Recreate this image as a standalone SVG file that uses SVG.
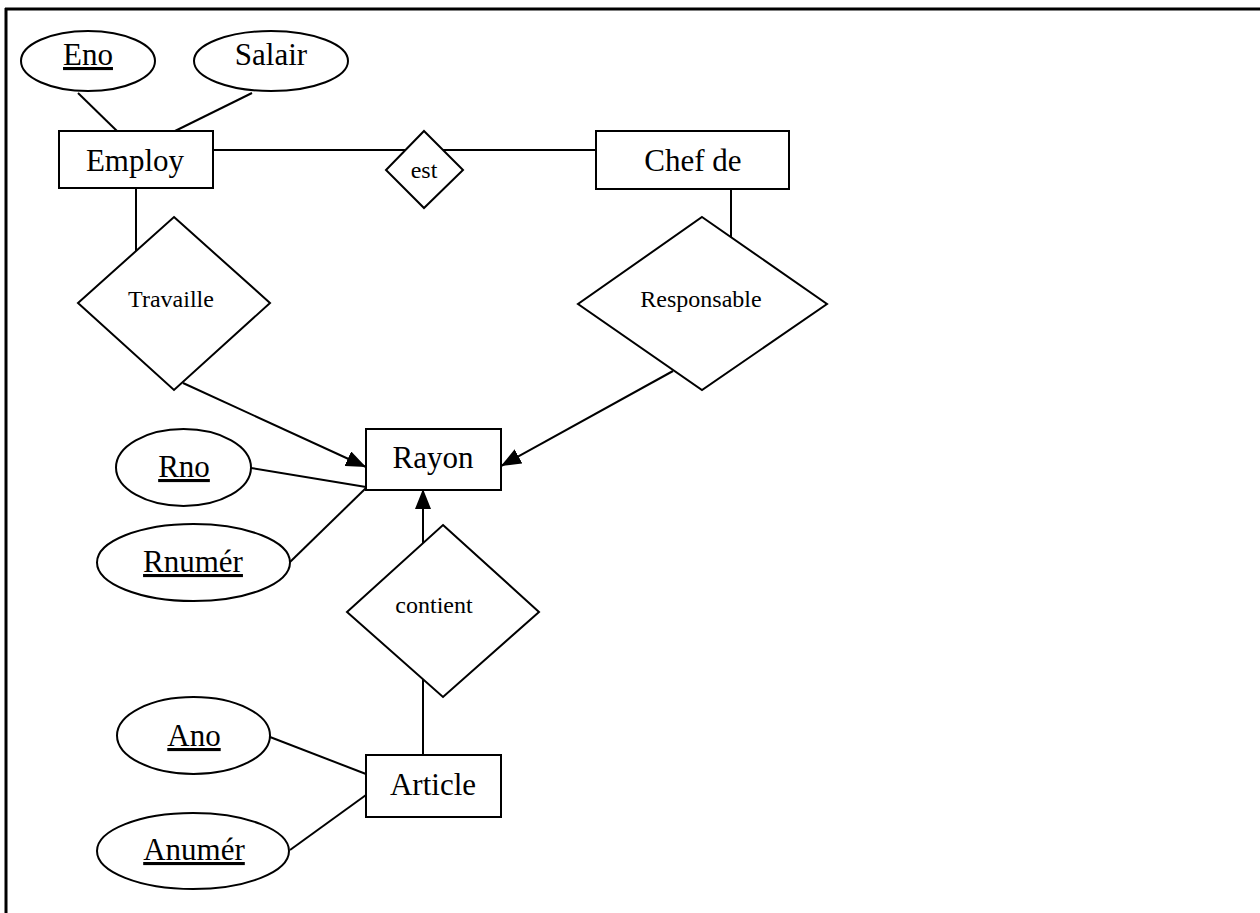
<svg xmlns="http://www.w3.org/2000/svg" width="1260" height="913" viewBox="0 0 1260 913">
  <style>
    .shape { fill: #ffffff; stroke: #000000; stroke-width: 2; }
    .link { fill: none; stroke: #000000; stroke-width: 2; }
    .big { font-family: "Liberation Serif", "Times New Roman", serif; font-size: 31px; fill: #000000; text-anchor: middle; }
    .small { font-family: "Liberation Serif", "Times New Roman", serif; font-size: 24px; fill: #000000; text-anchor: middle; }
    .key { text-decoration: underline; }
  </style>
  <defs>
    <marker id="arrow" viewBox="0 0 20 16" refX="20" refY="8" markerWidth="20" markerHeight="16" markerUnits="userSpaceOnUse" orient="auto">
      <path d="M0,0 L20,8 L0,16 Z" fill="#000000"/>
    </marker>
  </defs>

  <rect width="1260" height="913" fill="#ffffff"/>

  <!-- page frame: top and left edges -->
  <g id="frame">
    <line x1="5" y1="9" x2="1260" y2="9" stroke="#000000" stroke-width="3"/>
    <line x1="6" y1="8" x2="6" y2="913" stroke="#000000" stroke-width="3"/>
  </g>

  <g id="connectors">
    <line class="link" x1="78" y1="93" x2="117" y2="131"/>
    <line class="link" x1="252" y1="93" x2="175" y2="131"/>
    <line class="link" x1="213" y1="150" x2="596" y2="150"/>
    <line class="link" x1="136" y1="188" x2="136" y2="256"/>
    <line class="link" x1="731" y1="189" x2="731" y2="240"/>
    <line class="link" x1="183" y1="383" x2="366" y2="467" marker-end="url(#arrow)"/>
    <line class="link" x1="673" y1="371" x2="501" y2="466" marker-end="url(#arrow)"/>
    <line class="link" x1="423" y1="545" x2="423" y2="489" marker-end="url(#arrow)"/>
    <line class="link" x1="423" y1="676" x2="423" y2="755"/>
    <line class="link" x1="251" y1="468" x2="366" y2="487"/>
    <line class="link" x1="290" y1="562" x2="366" y2="488"/>
    <line class="link" x1="270" y1="737" x2="366" y2="774"/>
    <line class="link" x1="290" y1="850" x2="366" y2="795"/>
  </g>

  <g id="eno">
    <ellipse class="shape" cx="88" cy="61" rx="67" ry="30"/>
    <text class="big key" x="88" y="65">Eno</text>
  </g>
  <g id="salair">
    <ellipse class="shape" cx="271" cy="61" rx="77" ry="30"/>
    <text class="big" x="271" y="65">Salair</text>
  </g>
  <g id="employ">
    <rect class="shape" x="59" y="131" width="154" height="57"/>
    <text class="big" x="135" y="171">Employ</text>
  </g>
  <g id="est">
    <polygon class="shape" points="424,131 463,170 424,208 386,170"/>
    <text class="small" x="424" y="178">est</text>
  </g>
  <g id="chef-de">
    <rect class="shape" x="596" y="131" width="193" height="58"/>
    <text class="big" x="693" y="171">Chef de</text>
  </g>
  <g id="travaille">
    <polygon class="shape" points="174,217 270,303 174,390 78,303"/>
    <text class="small" x="171" y="307">Travaille</text>
  </g>
  <g id="responsable">
    <polygon class="shape" points="702,217 827,304 702,390 578,304"/>
    <text class="small" x="701" y="307">Responsable</text>
  </g>
  <g id="rayon">
    <rect class="shape" x="366" y="429" width="135" height="61"/>
    <text class="big" x="433" y="468">Rayon</text>
  </g>
  <g id="rno">
    <ellipse class="shape" cx="183.5" cy="467.5" rx="67.5" ry="38.5"/>
    <text class="big key" x="184" y="477">Rno</text>
  </g>
  <g id="rnumer">
    <ellipse class="shape" cx="193.5" cy="562.5" rx="96.5" ry="38.5"/>
    <text class="big key" x="193" y="572">Rnumér</text>
  </g>
  <g id="contient">
    <polygon class="shape" points="443,525 539,612 443,697 347,612"/>
    <text class="small" x="434" y="613">contient</text>
  </g>
  <g id="article">
    <rect class="shape" x="366" y="755" width="135" height="62"/>
    <text class="big" x="433" y="795">Article</text>
  </g>
  <g id="ano">
    <ellipse class="shape" cx="193.5" cy="735.5" rx="76.5" ry="38.5"/>
    <text class="big key" x="194" y="746">Ano</text>
  </g>
  <g id="anumer">
    <ellipse class="shape" cx="193" cy="851" rx="96" ry="38"/>
    <text class="big key" x="194" y="860">Anumér</text>
  </g>
</svg>
